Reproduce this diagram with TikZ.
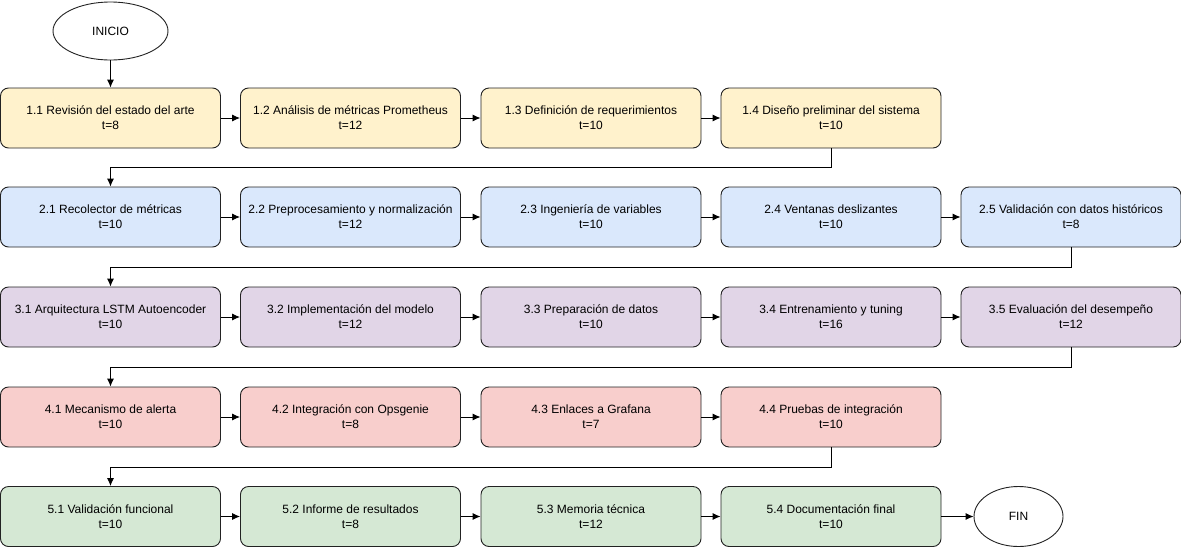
\documentclass[tikz,border=0pt]{standalone}
\usepackage{fontspec}
\setmainfont{Liberation Sans}
\usetikzlibrary{arrows.meta,shapes.geometric}

\definecolor{fyellow}{HTML}{FFF2CC}
\definecolor{fblue}{HTML}{DAE8FC}
\definecolor{fpurple}{HTML}{E1D5E7}
\definecolor{fred}{HTML}{F8CECC}
\definecolor{fgreen}{HTML}{D5E8D4}
\definecolor{edge}{HTML}{222222}

\tikzset{
  task/.style={draw=edge,line width=0.9pt,rounded corners=8pt,minimum width=220pt,minimum height=60pt,
    align=center,inner sep=0pt,font=\fontsize{12}{15}\selectfont},
  term/.style={draw=edge,line width=0.9pt,ellipse,inner sep=0pt,fill=white,font=\fontsize{12}{15}\selectfont},
  arr/.style={line width=0.9pt,-{Latex[length=8pt,width=7pt]}},
}

\begin{document}
\begin{tikzpicture}[x=1pt,y=-1pt]
        \useasboundingbox (0,0) rectangle (1181,547);

        % Inicio
        \node[term,minimum width=115pt,minimum height=58pt] (ini) at (110.5,31) {INICIO};

        % Fase 1
        \node[task,fill=fyellow] (t11) at (110.5,118) {1.1 Revisión del estado del arte\\t=8};
        \node[task,fill=fyellow] (t12) at (350.5,118) {1.2 Análisis de métricas Prometheus\\t=12};
        \node[task,fill=fyellow] (t13) at (591,118) {1.3 Definición de requerimientos\\t=10};
        \node[task,fill=fyellow] (t14) at (831,118) {1.4 Diseño preliminar del sistema\\t=10};

        % Fase 2
        \node[task,fill=fblue] (t21) at (110.5,217) {2.1 Recolector de métricas\\t=10};
        \node[task,fill=fblue] (t22) at (350.5,217) {2.2 Preprocesamiento y normalización\\t=12};
        \node[task,fill=fblue] (t23) at (591,217) {2.3 Ingeniería de variables\\t=10};
        \node[task,fill=fblue] (t24) at (831,217) {2.4 Ventanas deslizantes\\t=10};
        \node[task,fill=fblue] (t25) at (1071,217) {2.5 Validación con datos históricos\\t=8};

        % Fase 3
        \node[task,fill=fpurple] (t31) at (110.5,317) {3.1 Arquitectura LSTM Autoencoder\\t=10};
        \node[task,fill=fpurple] (t32) at (350.5,317) {3.2 Implementación del modelo\\t=12};
        \node[task,fill=fpurple] (t33) at (591,317) {3.3 Preparación de datos\\t=10};
        \node[task,fill=fpurple] (t34) at (831,317) {3.4 Entrenamiento y tuning\\t=16};
        \node[task,fill=fpurple] (t35) at (1071,317) {3.5 Evaluación del desempeño\\t=12};

        % Fase 4
        \node[task,fill=fred] (t41) at (110.5,417) {4.1 Mecanismo de alerta\\t=10};
        \node[task,fill=fred] (t42) at (350.5,417) {4.2 Integración con Opsgenie\\t=8};
        \node[task,fill=fred] (t43) at (591,417) {4.3 Enlaces a Grafana\\t=7};
        \node[task,fill=fred] (t44) at (831,417) {4.4 Pruebas de integración\\t=10};

        % Fase 5
        \node[task,fill=fgreen] (t51) at (110.5,516.5) {5.1 Validación funcional\\t=10};
        \node[task,fill=fgreen] (t52) at (350.5,516.5) {5.2 Informe de resultados\\t=8};
        \node[task,fill=fgreen] (t53) at (591,516.5) {5.3 Memoria técnica\\t=12};
        \node[task,fill=fgreen] (t54) at (831,516.5) {5.4 Documentación final\\t=10};

        % Fin
        \node[term,minimum width=89pt,minimum height=60pt] (fin) at (1018.5,516.5) {FIN};

        % Flechas
        \draw[arr] (ini) -- (t11);
        \draw[arr] (t11) -- (t12);
        \draw[arr] (t12) -- (t13);
        \draw[arr] (t13) -- (t14);
        \draw[arr] (t14.south) -- ++(0,19) -| (t21.north);
        \draw[arr] (t21) -- (t22);
        \draw[arr] (t22) -- (t23);
        \draw[arr] (t23) -- (t24);
        \draw[arr] (t24) -- (t25);
        \draw[arr] (t25.south) -- ++(0,20) -| (t31.north);
        \draw[arr] (t31) -- (t32);
        \draw[arr] (t32) -- (t33);
        \draw[arr] (t33) -- (t34);
        \draw[arr] (t34) -- (t35);
        \draw[arr] (t35.south) -- ++(0,20) -| (t41.north);
        \draw[arr] (t41) -- (t42);
        \draw[arr] (t42) -- (t43);
        \draw[arr] (t43) -- (t44);
        \draw[arr] (t44.south) -- ++(0,20) -| (t51.north);
        \draw[arr] (t51) -- (t52);
        \draw[arr] (t52) -- (t53);
        \draw[arr] (t53) -- (t54);
        \draw[arr] (t54) -- (fin);
      \end{tikzpicture}
\end{document}
